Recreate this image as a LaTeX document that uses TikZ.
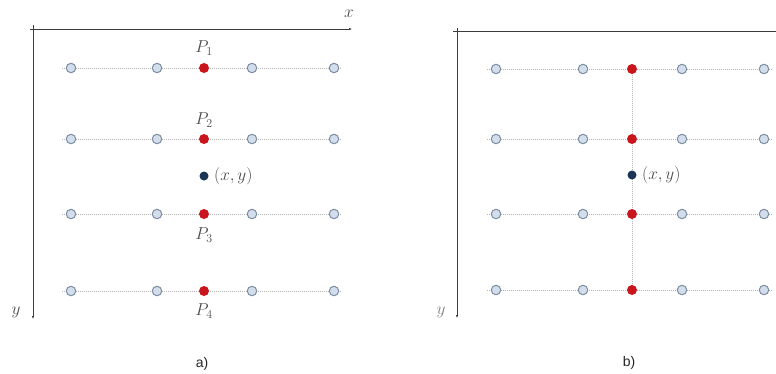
\documentclass[tikz,border=0pt]{standalone}
\usepackage{fontspec}
\newfontfamily\capfont{Liberation Sans}
\usetikzlibrary{backgrounds,arrows.meta}
\definecolor{ptfill}{HTML}{D3DEEC}
\definecolor{ptdraw}{HTML}{7D8DA3}
\definecolor{ptred}{HTML}{C9161D}
\definecolor{ptdark}{HTML}{1B3557}
\definecolor{gridgray}{HTML}{B4B4B4}
\definecolor{axisgray}{HTML}{3C3C3C}
\definecolor{labgray}{HTML}{4A4A4A}
\tikzset{
  gpt/.style={circle,fill=ptfill,draw=ptdraw,line width=1pt,inner sep=0pt,minimum size=9.5pt},
  rpt/.style={circle,fill=ptred,draw=none,inner sep=0pt,minimum size=10pt},
  dpt/.style={circle,fill=ptdark,draw=none,inner sep=0pt,minimum size=9pt},
  gridline/.style={draw=gridgray,line width=0.8pt,dash pattern=on 1pt off 1pt},
  axisline/.style={draw=axisgray,line width=0.9pt,-{Latex[length=3pt,width=2.5pt]}},
  mlab/.style={text=labgray,inner sep=1pt,font=\fontsize{17}{20}\selectfont},
  caplab/.style={text=black!85,font=\capfont\fontsize{14}{16}\selectfont},
}
\begin{document}
\begin{tikzpicture}[x=1pt,y=-1pt]
\useasboundingbox (0,0) rectangle (776,373);
% ---------- panel a ----------
\coordinate (ax0) at (30,29);
\coordinate (ax1) at (352,29);
\coordinate (ay0) at (33,25);
\coordinate (ay1) at (33,319);
\draw[axisline] (ax0) -- (ax1);
\draw[axisline] (ay0) -- (ay1);
\node[mlab] (axlab) at (349,14) {$x$};
\node[mlab] (aylab) at (16,312) {$y$};
\foreach \r/\yy in {1/68,2/139,3/214,4/291}{
  \node[gpt] (a\r c1) at (71,\yy) {};
  \node[gpt] (a\r c2) at (157,\yy) {};
  \node[rpt] (a\r c3) at (204,\yy) {};
  \node[gpt] (a\r c4) at (252,\yy) {};
  \node[gpt] (a\r c5) at (334,\yy) {};
  \begin{scope}[on background layer]
    \draw[gridline] ([xshift=-9pt]a\r c1.center) -- ([xshift=8pt]a\r c5.center);
  \end{scope}
}
\node[dpt] (axy) at (204,176) {};
\node[mlab,anchor=west] (axylab) at (213,176) {$(x,y)$};
\node[mlab] (p1) at (204,48) {$P_1$};
\node[mlab] (p2) at (204,120) {$P_2$};
\node[mlab] (p3) at (204,235) {$P_3$};
\node[mlab] (p4) at (204,311) {$P_4$};
\node[caplab] (capa) at (202,364) {a)};
% ---------- panel b ----------
\coordinate (bx0) at (453,31);
\coordinate (bx1) at (790,31);
\coordinate (by0) at (457,28);
\coordinate (by1) at (457,318);
\draw[axisline] (bx0) -- (bx1);
\draw[axisline] (by0) -- (by1);
\node[mlab,text=labgray!70] (bylab) at (441,312) {$y$};
\foreach \r/\yy in {1/69,2/139,3/214,4/290}{
  \node[gpt] (b\r c1) at (496,\yy) {};
  \node[gpt] (b\r c2) at (583,\yy) {};
  \node[rpt] (b\r c3) at (632,\yy) {};
  \node[gpt] (b\r c4) at (682,\yy) {};
  \node[gpt] (b\r c5) at (764,\yy) {};
  \begin{scope}[on background layer]
    \draw[gridline] ([xshift=-9pt]b\r c1.center) -- ([xshift=8pt]b\r c5.center);
  \end{scope}
}
\node[dpt] (bxy) at (632,175) {};
\node[mlab,anchor=west] (bxylab) at (641,175) {$(x,y)$};
\begin{scope}[on background layer]
  \draw[gridline] (b1c3.center) -- (b4c3.center);
\end{scope}
\node[caplab] (capb) at (629,363) {b)};
\end{tikzpicture}
\end{document}
